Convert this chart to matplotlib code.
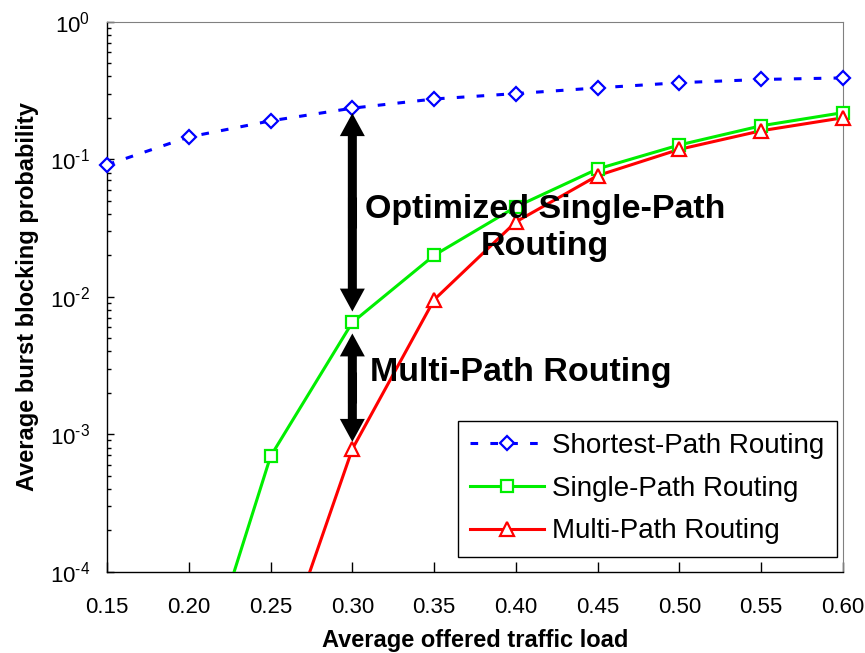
import numpy as np
import matplotlib
matplotlib.use("Agg")
import matplotlib.pyplot as plt
from matplotlib.lines import Line2D
from matplotlib.ticker import FixedLocator, LogLocator, NullFormatter

plt.rcParams['font.family'] = ['Liberation Sans', 'DejaVu Sans']
plt.rcParams['mathtext.fontset'] = 'custom'
plt.rcParams['mathtext.rm'] = 'Liberation Sans'

# data
load = [0.15, 0.20, 0.25, 0.30, 0.35, 0.40, 0.45, 0.50, 0.55, 0.60]
shortest_path = [0.091, 0.145, 0.19, 0.235, 0.274, 0.30, 0.33, 0.36, 0.38, 0.39]
single_path = [np.nan, 9e-6, 6.9e-4, 6.5e-3, 0.020, 0.045, 0.085, 0.127, 0.175, 0.218]
multi_path = [np.nan, np.nan, 1.5e-5, 7.8e-4, 9.5e-3, 0.035, 0.076, 0.118, 0.161, 0.20]

# arrow tips (upper, lower) at load 0.30
arrow_x = 0.30
gap_single = (0.216, 0.0078)
gap_multi = (0.0054, 0.00088)

x_ticks = [0.15, 0.20, 0.25, 0.30, 0.35, 0.40, 0.45, 0.50, 0.55, 0.60]
y_ticks = [1e-4, 1e-3, 1e-2, 1e-1, 1e0]
y_tick_labels = ['$\\mathregular{10^{\u20104}}$', '$\\mathregular{10^{\u20103}}$',
                 '$\\mathregular{10^{\u20102}}$', '$\\mathregular{10^{\u20101}}$',
                 '$\\mathregular{10^{0}}$']

series = [
    ("Shortest-Path Routing", shortest_path, "#0000ff", (0, (2.5, 4)), "D", 7),
    ("Single-Path Routing", single_path, "#00ee00", "-", "s", 8.5),
    ("Multi-Path Routing", multi_path, "#ff0000", "-", "^", 10),
]

fig = plt.figure(figsize=(8.65, 6.53), dpi=100)
ax = fig.add_axes([0.1237, 0.1245, 0.8509, 0.8423])
ax.set_yscale('log')
ax.set_xlim(0.15, 0.60)
ax.set_ylim(1e-4, 1e0)

x = np.array(load)
handles = []
for label, vals, color, ls, mk, ms in series:
    y = np.array(vals, dtype=float)
    ax.plot(x, y, color=color, ls=ls, lw=2.2, zorder=3)
    vis = y >= 1e-4
    ax.plot(x[vis], y[vis], ls='none', marker=mk, ms=ms, mfc='white', mec=color,
            mew=1.6, clip_on=False, zorder=4)
    handles.append(Line2D([], [], color=color, ls=ls, lw=2.2, marker=mk, ms=ms,
                          mfc='white', mec=color, mew=1.6, label=label))

# double-headed arrows: two filled arrows pointing outwards + a shaft piece over the joint
arrow_kw = dict(arrowstyle='simple,head_length=1.65,head_width=1.8,tail_width=0.65',
                color='black', lw=0, shrinkA=0, shrinkB=0, mutation_scale=10)
for top, bottom in [gap_single, gap_multi]:
    mid = np.sqrt(top * bottom)
    ax.annotate('', xy=(arrow_x, top), xytext=(arrow_x, mid), arrowprops=arrow_kw, zorder=5)
    ax.annotate('', xy=(arrow_x, bottom), xytext=(arrow_x, mid), arrowprops=arrow_kw, zorder=5)
    ax.plot([arrow_x, arrow_x], [mid / 1.3, mid * 1.3], color='black', lw=6.5,
            solid_capstyle='butt', zorder=5)

ax.text(0.4178, 0.0316, "Optimized Single-Path\nRouting", ha='center', va='center',
        fontsize=24.5, fontweight='bold', linespacing=1.25, zorder=6)
ax.text(0.3108, 0.00283, "Multi-Path Routing", ha='left', va='center',
        fontsize=24.5, fontweight='bold', zorder=6)

ax.xaxis.set_major_locator(FixedLocator(x_ticks))
ax.set_xticklabels([f"{t:.2f}" for t in x_ticks])
ax.yaxis.set_major_locator(FixedLocator(y_ticks))
ax.set_yticklabels(y_tick_labels)
ax.yaxis.set_minor_locator(LogLocator(base=10, subs=np.arange(2, 10)))
ax.yaxis.set_minor_formatter(NullFormatter())

ax.tick_params(axis='both', which='major', direction='in', labelsize=16, width=1, color='black')
ax.tick_params(axis='x', which='major', length=7, pad=18)
ax.tick_params(axis='y', which='major', length=5, pad=12)
ax.tick_params(axis='y', which='minor', direction='in', length=3, width=1)
ax.tick_params(top=False, right=False)

for s in ['top', 'right']:
    ax.spines[s].set_color('#808080')
for s in ['left', 'bottom']:
    ax.spines[s].set_color('black')
    ax.spines[s].set_linewidth(1.0)

ax.set_xlabel("Average offered traffic load", fontsize=17, fontweight='bold', labelpad=8)
ax.set_ylabel("Average burst blocking probability", fontsize=17, fontweight='bold', labelpad=8)

leg = ax.legend(handles=handles, loc='lower right', bbox_to_anchor=(0.992, 0.027),
                borderaxespad=0, fontsize=20, fancybox=False, framealpha=1,
                edgecolor='black', handlelength=2.66, labelspacing=0.6,
                borderpad=0.45, handletextpad=0.3)
leg.get_frame().set_linewidth(1.0)

fig.savefig("out.png", dpi=100)
